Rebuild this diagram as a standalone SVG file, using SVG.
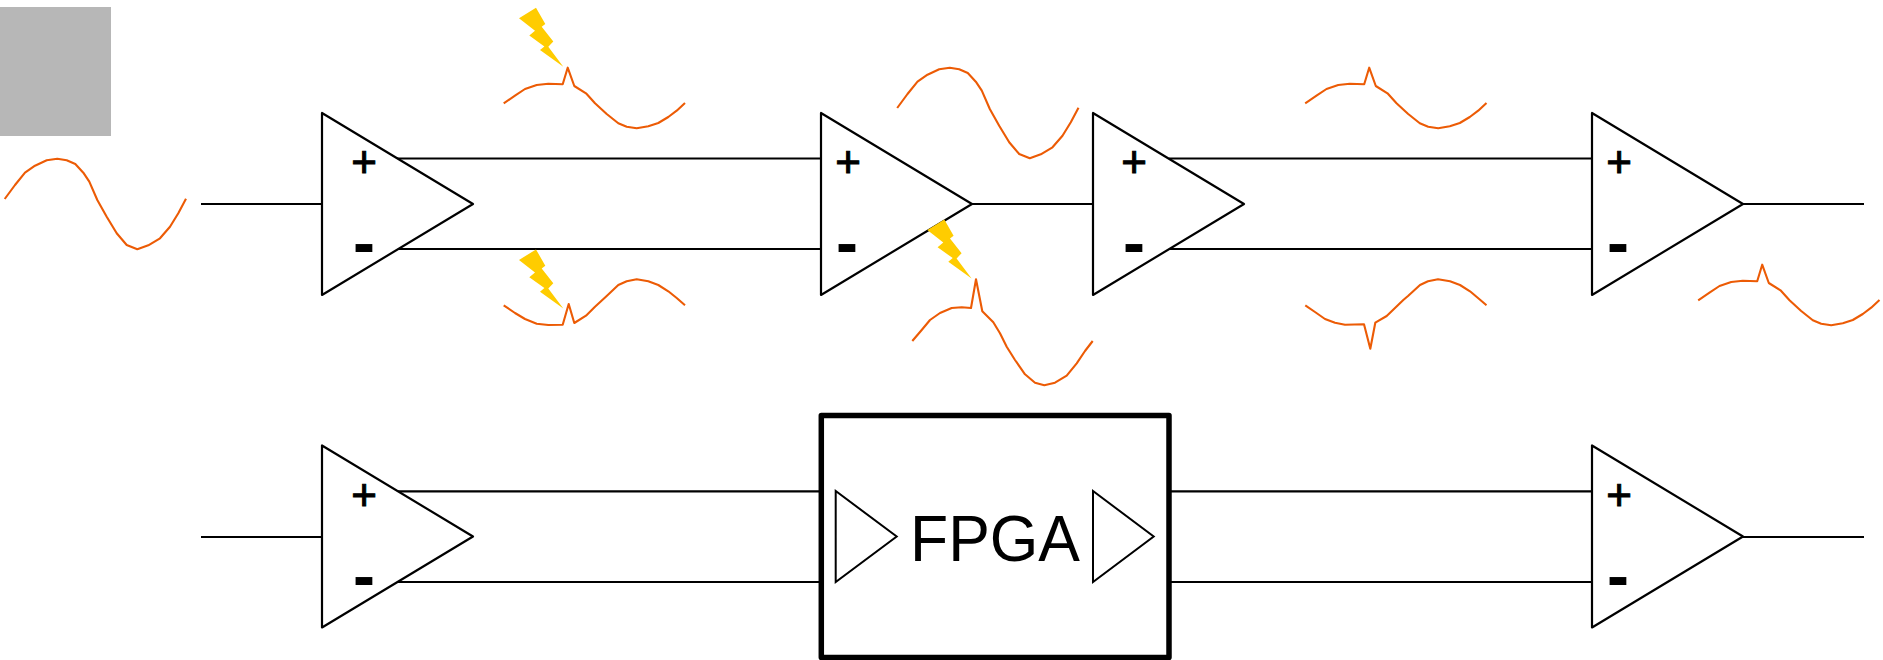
<svg xmlns="http://www.w3.org/2000/svg" width="1883" height="660" viewBox="0 0 1883 660">
<style>
.w{fill:none;stroke:#000;stroke-width:2.2}
.t{fill:#fff;stroke:#000;stroke-width:2.2;stroke-linejoin:round}
.tt{fill:#fff;stroke:#000;stroke-width:2;stroke-linejoin:miter}
.o{fill:none;stroke:#ec5b05;stroke-width:2.1;stroke-linejoin:round}
.b{fill:#ffcc00}
.p{font-family:"Liberation Sans",Arial,sans-serif;font-weight:400;font-size:44px;text-anchor:middle;fill:#000;stroke:#000;stroke-width:1}
.m{font-family:"Liberation Sans",Arial,sans-serif;font-weight:700;font-size:66px;text-anchor:middle;fill:#000}
.f{font-family:"Liberation Sans",Arial,sans-serif;font-weight:400;font-size:64px;fill:#000}
</style>
<defs>
<polygon id="amp" class="t" points="0,0 0,182 151,91"/>
<polygon id="bolt" class="b" points="519,18.3 536,7.7 545.3,24 541.7,26.7 553.3,41.5 548.3,46.7 563.3,66.7 540,50 544.4,46.4 529.3,35.5 535,30.7"/>
<polyline id="sine" class="o" points="4.7,199 15,185 25,172.7 35,165.7 46.7,160.3 57.3,158.7 66.7,160.3 75.3,164 83.3,172.7 89.3,181.7 97.3,200 106.7,216.7 116.7,233.3 126.7,245 137.3,249.3 148.3,245.3 160,238.3 170,226.7 178.3,213.3 186,198.7"/>
<polyline id="gup" class="o" points="503.7,103.3 515,95.7 525,89 536.7,85 548.3,83.7 562.7,84.3 567.7,67.7 574.3,86 586,93.3 595,103.3 606.7,114 618.3,123.3 626.7,126.7 636.7,128.3 648.3,126.3 658.3,123 668.3,117 676.7,110.7 685,103"/>
</defs>

<rect x="0" y="7" width="111" height="129" fill="#b7b7b7"/>

<g id="connectors">
<path class="w" d="M201 204H322M397 158.5H821M397 249H821M972 204H1093M1169 158.5H1592M1169 249H1592M1743 204H1864"/>
<path class="w" d="M201 537H322M397 491.3H820M397 582H820M1171 491.3H1592M1171 582H1592M1743 537H1864"/>
</g>

<g id="amp-1"><use href="#amp" x="322" y="113"/><text class="p" x="364" y="177">+</text><text class="m" x="364" y="265">-</text></g>
<g id="amp-2"><use href="#amp" x="821" y="113"/><text class="p" x="848" y="177">+</text><text class="m" x="847" y="265">-</text></g>
<g id="amp-3"><use href="#amp" x="1093" y="113"/><text class="p" x="1134" y="177">+</text><text class="m" x="1134" y="265">-</text></g>
<g id="amp-4"><use href="#amp" x="1592" y="113"/><text class="p" x="1619" y="177">+</text><text class="m" x="1618" y="265">-</text></g>
<g id="amp-5"><use href="#amp" x="322" y="445.5"/><text class="p" x="364" y="510">+</text><text class="m" x="364" y="598">-</text></g>
<g id="amp-6"><use href="#amp" x="1592" y="445.5"/><text class="p" x="1619" y="510">+</text><text class="m" x="1618" y="598">-</text></g>

<g id="fpga">
<rect x="821.3" y="415.5" width="347.7" height="242" fill="#fff" stroke="#000" stroke-width="5.5" stroke-linejoin="round"/>
<polygon class="tt" points="835.7,491 835.7,582 896.7,536.5"/>
<polygon class="tt" points="1093,491 1093,582 1153.7,536.5"/>
<text class="f" x="910" y="561" textLength="170" lengthAdjust="spacingAndGlyphs">FPGA</text>
</g>

<g id="signals">
<use href="#sine"/>
<use href="#sine" x="892.5" y="-91"/>
<use href="#gup"/>
<use href="#gup" x="801.5"/>
<use href="#gup" x="1194.5" y="197"/>
<polyline class="o" points="503.7,305.3 515,313 525,319 536.7,323.7 548.3,325 562.7,324.7 568.7,304 574.3,323 586,315.7 595,306.7 606.7,296 618.3,285 626.7,281.3 636.7,279.3 648.3,281.3 658.3,285 668.3,291.3 676.7,298 685,305.3"/>
<polyline class="o" points="1305.3,305.3 1315,312 1325,319 1335,322.7 1345,324.7 1364,324.3 1370.3,348.7 1375.3,322.7 1386.7,316 1395,308 1403.3,300 1408,296 1420,285 1428,281.3 1438,279.3 1450,281.3 1460,285 1470,291.3 1478,298 1486.5,305.3"/>
<polyline class="o" points="912.3,341 921.7,330 930,320 940,313 951.7,308 961.7,307.3 971,308 976,279.3 982.3,311.3 993.3,322.3 1000,333.3 1006.7,346.7 1015,360 1025,374.3 1035,382.7 1044.3,385.3 1055,382.7 1066.7,375.7 1076.7,363.3 1085,351 1092.7,341"/>
<use href="#bolt"/>
<use href="#bolt" y="241.7"/>
<use href="#bolt" x="408.3" y="211.7"/>
</g>
</svg>
